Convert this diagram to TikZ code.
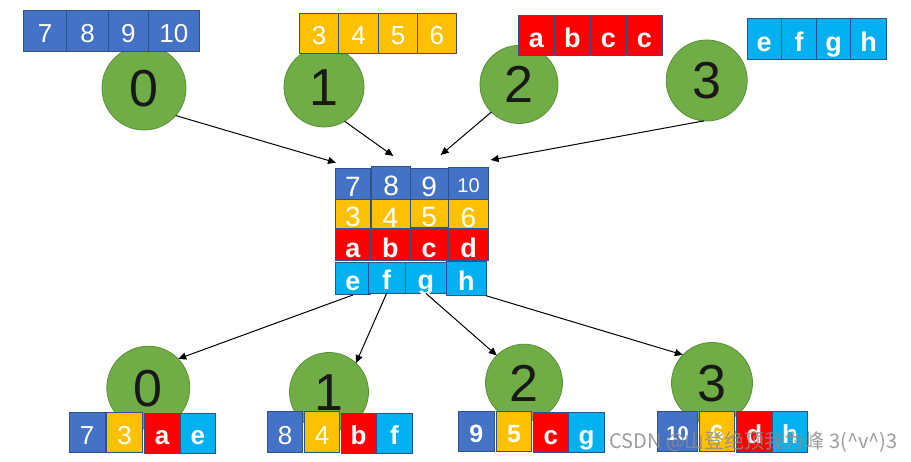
\documentclass[tikz,border=0pt]{standalone}
\usepackage{fontspec}
\setmainfont{Liberation Sans}
\newfontfamily\cjkfont{Noto Sans CJK SC}
\usetikzlibrary{arrows.meta}
\definecolor{cblue}{HTML}{4472C4}
\definecolor{cyel}{HTML}{FFC000}
\definecolor{cred}{HTML}{FF0000}
\definecolor{ccyan}{HTML}{00B0F0}
\definecolor{cedge}{HTML}{2F528F}
\definecolor{cgreen}{HTML}{70AD47}
\definecolor{cgreenedge}{HTML}{5A8F38}
\tikzset{
  cellbox/.style={draw=cedge, line width=1pt, inner sep=0pt, outer sep=0pt, text=white, align=center},
  circnode/.style={circle, draw=cgreenedge, fill=cgreen, line width=0.8pt, inner sep=0pt, outer sep=0pt,
    font=\fontsize{52}{52}\selectfont, text height=37pt, text depth=0pt, text=black!90},
  conn/.style={line width=1pt, -{Triangle[length=8pt,width=7pt]}}
}
\newcommand\mycell[8]{%
  \node[cellbox, fill=#6, minimum width={(#4-#2)*1pt}, minimum height={(#5-#3)*1pt},
    font=\fontsize{#7}{#7}\selectfont, text height=\dimexpr #7pt*9/10\relax, text depth=0pt]
    (#1) at ({(#2+#4)/2},{(#3+#5)/2}) {#8};}
\begin{document}
\begin{tikzpicture}[x=1pt,y=-1pt]
\path[use as bounding box, fill=white] (0,0) rectangle (911,462);
% top circles
\node[circnode, minimum size=84pt] (c0) at (144,88) {0};
\node[circnode, minimum size=80pt] (c1) at (324,87) {1};
\node[circnode, minimum size=78pt] (c2) at (519,84.5) {2};
\node[circnode, minimum size=81pt] (c3) at (706.7,80.5) {3};
% bottom circles
\node[circnode, minimum size=83pt] (b0) at (148.3,387.7) {0};
\node[circnode, minimum size=79pt] (b1) at (329,392) {1};
\node[circnode, minimum size=77pt] (b2) at (524,382.7) {2};
\node[circnode, minimum size=81pt] (b3) at (712,383) {3};
% top groups
\mycell{g07}{23.3}{10.3}{66.7}{51.7}{cblue}{26}{7}
\mycell{g08}{66.7}{10.3}{108.3}{51.7}{cblue}{26}{8}
\mycell{g09}{108.3}{10.3}{148.3}{51.7}{cblue}{26}{9}
\mycell{g010}{148.3}{10.3}{199.3}{51.7}{cblue}{26}{10}
\mycell{g13}{299.3}{13.3}{338.7}{53.3}{cyel}{26}{3}
\mycell{g14}{338.7}{13.3}{378.3}{53.3}{cyel}{26}{4}
\mycell{g15}{378.3}{13.3}{417.7}{53.3}{cyel}{26}{5}
\mycell{g16}{417.7}{13.3}{456}{53.3}{cyel}{26}{6}
\mycell{g2a}{518.3}{15.3}{554.3}{55.3}{cred}{27}{\bfseries a}
\mycell{g2b}{554.3}{15.3}{590.3}{55.3}{cred}{27}{\bfseries b}
\mycell{g2c}{590.3}{15.3}{626.7}{55.3}{cred}{27}{\bfseries c}
\mycell{g2d}{626.7}{15.3}{662.3}{55.3}{cred}{27}{\bfseries c}
\mycell{g3e}{747}{19}{781.3}{59.3}{ccyan}{27}{\bfseries e}
\mycell{g3f}{781.3}{19}{816.7}{59.3}{ccyan}{27}{\bfseries f}
\mycell{g3g}{816.7}{19}{850.7}{59.3}{ccyan}{27}{\bfseries g}
\mycell{g3h}{850.7}{19}{886.7}{59.3}{ccyan}{27}{\bfseries h}
% middle matrix
\mycell{m7}{335}{168.3}{370.7}{199.3}{cblue}{28}{7}
\mycell{m8}{371.7}{166.7}{410.7}{200}{cblue}{28}{8}
\mycell{m9}{410}{168.3}{448.3}{200}{cblue}{28}{9}
\mycell{m10}{448.3}{167.3}{488.7}{200}{cblue}{20}{10}
\mycell{m3}{335}{199.3}{370.7}{229}{cyel}{28}{3}
\mycell{m4}{371}{200}{410}{230}{cyel}{28}{4}
\mycell{m5}{410}{200}{448.3}{227.3}{cyel}{28}{5}
\mycell{m6}{448.3}{200}{488.7}{229}{cyel}{28}{6}
\mycell{ma}{335}{229}{370.7}{261}{cred}{27}{\bfseries a}
\mycell{mb}{370.7}{229}{410}{261}{cred}{27}{\bfseries b}
\mycell{mc}{410}{229}{448.3}{261}{cred}{27}{\bfseries c}
\mycell{md}{448.3}{229}{488.7}{261}{cred}{27}{\bfseries d}
\mycell{me}{335}{262.3}{370.7}{295}{ccyan}{27}{\bfseries e}
\mycell{mf}{368.3}{262.3}{405}{293.3}{ccyan}{27}{\bfseries f}
\mycell{mg}{405}{262.3}{446.7}{293.3}{ccyan}{27}{\bfseries g}
\mycell{mh}{446.7}{261.7}{486}{295.7}{ccyan}{27}{\bfseries h}
% bottom groups
\mycell{h07}{69}{412.3}{105}{452.7}{cblue}{26}{7}
\mycell{h03}{106.3}{412.3}{142.7}{452.7}{cyel}{26}{3}
\mycell{h0a}{144.3}{413.3}{180}{453.3}{cred}{26}{\bfseries a}
\mycell{h0e}{180}{413.3}{215.7}{453.3}{ccyan}{26}{\bfseries e}
\mycell{h18}{267.3}{412}{302.7}{452.7}{cblue}{26}{8}
\mycell{h14}{304.3}{412}{339.7}{452.7}{cyel}{26}{4}
\mycell{h1b}{341.3}{413.3}{376}{453.3}{cred}{26}{\bfseries b}
\mycell{h1f}{376}{413.3}{412.7}{453.3}{ccyan}{26}{\bfseries f}
\mycell{h29}{458.3}{411.3}{494.3}{451.7}{cblue}{25}{\bfseries 9}
\mycell{h25}{496.3}{411.3}{531.7}{451.7}{cyel}{25}{\bfseries 5}
\mycell{h2c}{533}{412.7}{568.7}{452.3}{cred}{26}{\bfseries c}
\mycell{h2g}{568.7}{412.7}{604.3}{452.3}{ccyan}{26}{\bfseries g}
\mycell{h310}{657.3}{411.3}{697.7}{451.7}{cblue}{20}{\bfseries 10}
\mycell{h36}{699.3}{411.3}{734.3}{451.7}{cyel}{25}{\bfseries 6}
\mycell{h3d}{736.3}{412}{772.3}{452}{cred}{26}{\bfseries d}
\mycell{h3h}{772.3}{412}{807.7}{452}{ccyan}{26}{\bfseries h}
% arrow targets
\coordinate (t0) at (336,162.7);
\coordinate (t1) at (393.3,156);
\coordinate (t2) at (440.7,155);
\coordinate (t3) at (490.7,160);
\draw[conn] (c0.-41.6) -- (t0);
\draw[conn] (c1.-59) -- (t1);
\draw[conn] (c2.-135) -- (t2);
\draw[conn] (c3.-94.7) -- (t3);
\draw[conn] (me.south) -- (b0.44);
\draw[conn] (mf.south) -- (b1.47);
\draw[conn] (mg.south) -- (b2.135);
\draw[conn] (mh.south east) -- (b3.136);
% watermark
\node[anchor=base west, inner sep=0pt, text=black!45, opacity=0.85,
  font=\cjkfont\fontsize{20}{20}\selectfont] (wm) at (609,449)
  {CSDN @山登绝顶我为峰 3(\textasciicircum v\textasciicircum)3};
\end{tikzpicture}
\end{document}
